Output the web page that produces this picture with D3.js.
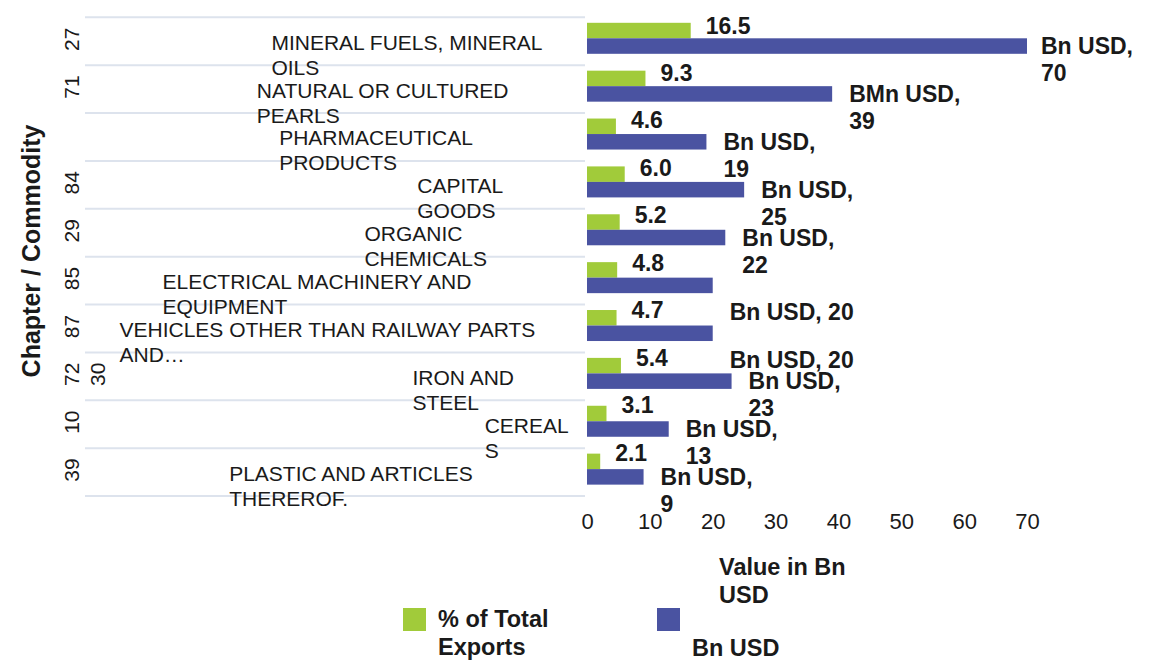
<!DOCTYPE html>
<html>
<head>
<meta charset="utf-8">
<script src="https://cdn.jsdelivr.net/npm/d3@7"></script>
<style>
  html, body { margin: 0; padding: 0; background: #ffffff; }
  svg { display: block; }
</style>
</head>
<body>
<svg id="chart" width="1159" height="661"></svg>
<script>
// ---------- data ----------
const categories = [
  "MINERAL FUELS, MINERAL OILS",
  "NATURAL OR CULTURED PEARLS",
  "PHARMACEUTICAL PRODUCTS",
  "CAPITAL GOODS",
  "ORGANIC CHEMICALS",
  "ELECTRICAL MACHINERY AND EQUIPMENT",
  "VEHICLES OTHER THAN RAILWAY PARTS AND…",
  "IRON AND STEEL",
  "CEREALS",
  "PLASTIC AND ARTICLES THEREROF."
];
const chapters = ["27", "71", "", "84", "29", "85", "87", "72", "10", "39"];
const chapters2 = ["", "", "", "", "", "", "", "30", "", ""];
const pctExports = [16.5, 9.3, 4.6, 6.0, 5.2, 4.8, 4.7, 5.4, 3.1, 2.1];
const bnUSD = [70, 39, 19, 25, 22, 20, 20, 23, 13, 9];
const unitLabels = ["Bn USD,", "BMn USD,", "Bn USD,", "Bn USD,", "Bn USD,", "Bn USD,", "Bn USD,", "Bn USD,", "Bn USD,", "Bn USD,"];
const unitSeparators = ["\n", "\n", "\n", "\n", "\n", " ", " ", "\n", "\n", "\n"];
const xTicks = [0, 10, 20, 30, 40, 50, 60, 70];
const seriesNames = ["% of Total Exports", "Bn USD"];
const yTitle = "Chapter / Commodity";
const xTitle = ["Value in Bn", "USD"];

// ---------- style ----------
const FONT = "'Liberation Sans', Arial, Helvetica, sans-serif";
const GREEN = "#a1cb3a";
const BLUE = "#4a53a1";
const GRID = "#dde3ed";
const TXT = "#1a1a1a";
const BOLD = 23;

const svg = d3.select("#chart");

const canvas = document.createElement("canvas");
const ctx = canvas.getContext("2d");
const measure = (s, size, weight) => {
  ctx.font = `${weight || "normal"} ${size}px 'Liberation Sans', Arial, sans-serif`;
  return ctx.measureText(s).width;
};

const x = d3.scaleLinear().domain([0, 70]).range([587, 1027]);
const idx = d3.range(categories.length);
const y = d3.scaleBand().domain(idx).range([17.3, 496]).paddingInner(0).paddingOuter(0);
const sub = d3.scaleBand().domain(["pct", "bn"]).range([5.5, 36.5]);

// gridlines (left area)
const gridYs = idx.map(i => y(i)).concat([y.range()[1]]);
svg.append("g").selectAll("line").data(gridYs).join("line")
  .attr("x1", 85).attr("x2", 585)
  .attr("y1", d => d).attr("y2", d => d)
  .attr("stroke", GRID).attr("stroke-width", 2);

// bars
const gBars = svg.append("g");
gBars.selectAll("rect.pct").data(idx).join("rect").attr("class", "pct")
  .attr("x", x(0)).attr("y", i => y(i) + sub("pct"))
  .attr("width", i => x(pctExports[i]) - x(0)).attr("height", sub.bandwidth())
  .attr("fill", GREEN);
gBars.selectAll("rect.bn").data(idx).join("rect").attr("class", "bn")
  .attr("x", x(0)).attr("y", i => y(i) + sub("bn"))
  .attr("width", i => x(bnUSD[i]) - x(0)).attr("height", sub.bandwidth())
  .attr("fill", BLUE);

// green value labels
svg.append("g").selectAll("text").data(idx).join("text")
  .attr("x", i => x(pctExports[i]) + 15)
  .attr("y", i => y(i) + sub("pct") + sub.bandwidth() / 2 + 3 - i * 0.4)
  .attr("font-family", FONT).attr("font-size", BOLD).attr("font-weight", "bold")
  .attr("fill", TXT)
  .text(i => pctExports[i].toFixed(1));

// blue value labels (bottom line anchored below bar)
const gBn = svg.append("g");
idx.forEach(i => {
  const lines = (unitLabels[i] + unitSeparators[i] + bnUSD[i]).split("\n");
  const wMax = d3.max(lines, l => measure(l, BOLD, "bold"));
  const lx = Math.min(x(bnUSD[i]) + 17, 1133 - wMax);
  const cy = y(i) + sub("bn") + sub.bandwidth() / 2;
  const lastBase = cy + 35;
  const t = gBn.append("text")
    .attr("font-family", FONT).attr("font-size", BOLD).attr("font-weight", "bold")
    .attr("fill", TXT);
  lines.forEach((ln, k) => {
    t.append("tspan")
      .attr("x", lx)
      .attr("y", lastBase - (lines.length - 1 - k) * 27)
      .text(ln);
  });
});

// category labels: placed by their single-line width, wrapped at the plot edge
const CAT = 21;
const gCat = svg.append("g");
idx.forEach(i => {
  const str = categories[i];
  const w = measure(str, CAT);
  const x0 = 576.5 - 0.937 * w;
  const maxW = 580 - x0;
  const meas = s => measure(s, CAT);
  const words = str.split(" ");
  const lines = [];
  let cur = "";
  words.forEach(wd => {
    const cand = cur ? cur + " " + wd : wd;
    if (meas(cand) <= maxW) { cur = cand; return; }
    if (cur) { lines.push(cur); cur = ""; }
    if (meas(wd) <= maxW) { cur = wd; return; }
    let part = "";
    for (const ch of wd) {
      if (meas(part + ch) <= maxW) part += ch;
      else { lines.push(part); part = ch; }
    }
    cur = part;
  });
  if (cur) lines.push(cur);
  const base = y(i) + y.bandwidth() / 2 + 8.5;
  const t = gCat.append("text").attr("font-family", FONT).attr("font-size", CAT).attr("fill", TXT);
  lines.forEach((ln, k) => {
    t.append("tspan").attr("x", x0).attr("y", base + k * 25).text(ln);
  });
});

// chapter tick labels (rotated)
const gCh = svg.append("g");
idx.forEach(i => {
  const cy = y(i) + y.bandwidth() / 2 - 2;
  if (chapters[i]) {
    gCh.append("text").attr("transform", `translate(71,${cy}) rotate(-90)`)
      .attr("text-anchor", "middle").attr("dominant-baseline", "central")
      .attr("font-family", FONT).attr("font-size", 21).attr("fill", TXT).text(chapters[i]);
  }
  if (chapters2[i]) {
    gCh.append("text").attr("transform", `translate(97,${cy}) rotate(-90)`)
      .attr("text-anchor", "middle").attr("dominant-baseline", "central")
      .attr("font-family", FONT).attr("font-size", 21).attr("fill", TXT).text(chapters2[i]);
  }
});

// y title
svg.append("text").attr("transform", "translate(31,251) rotate(-90)")
  .attr("text-anchor", "middle").attr("dominant-baseline", "central")
  .attr("font-family", FONT).attr("font-size", 25).attr("font-weight", "bold")
  .attr("fill", TXT).text(yTitle);

// x axis (labels only)
const xAxis = d3.axisBottom(x).tickValues(xTicks).tickSize(0).tickPadding(0).tickFormat(d3.format("d"));
const gx = svg.append("g").attr("transform", "translate(0,521)").call(xAxis);
gx.select(".domain").remove();
gx.selectAll("text").attr("font-family", FONT).attr("font-size", 22).attr("fill", TXT)
  .attr("dy", null).attr("dominant-baseline", "central");

// x title
const xt = svg.append("text").attr("font-family", FONT).attr("font-size", 23.5)
  .attr("font-weight", "bold").attr("fill", TXT);
xTitle.forEach((ln, k) => xt.append("tspan").attr("x", 719).attr("y", 575 + k * 28).text(ln));

// legend
const leg = svg.append("g");
leg.append("rect").attr("x", 403).attr("y", 608).attr("width", 23).attr("height", 23).attr("fill", GREEN);
const lt1 = leg.append("text").attr("font-family", FONT).attr("font-size", 23.5)
  .attr("font-weight", "bold").attr("fill", TXT);
["% of Total", "Exports"].forEach((ln, k) => lt1.append("tspan").attr("x", 438).attr("y", 627 + k * 28).text(ln));
leg.append("rect").attr("x", 657).attr("y", 608).attr("width", 23).attr("height", 23).attr("fill", BLUE);
leg.append("text").attr("x", 692).attr("y", 656).attr("font-family", FONT).attr("font-size", 23.5)
  .attr("font-weight", "bold").attr("fill", TXT).text(seriesNames[1]);
</script>
</body>
</html>
